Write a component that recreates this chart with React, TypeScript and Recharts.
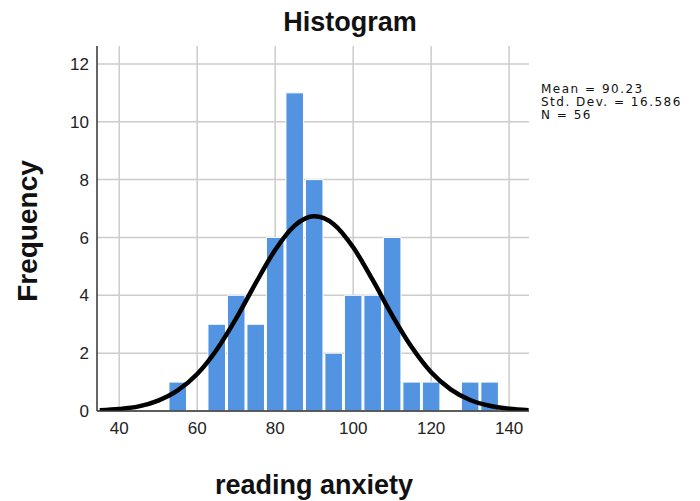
import React from 'react';
import { ComposedChart, Bar, Line, XAxis, YAxis, CartesianGrid } from 'recharts';

// bin centers (width 5) and counts
const binCenters = [35, 40, 45, 50, 55, 60, 65, 70, 75, 80, 85, 90, 95, 100, 105, 110, 115, 120, 125, 130, 135, 140, 145];
const frequencies = [0, 0, 0, 0, 1, 0, 3, 4, 3, 6, 11, 8, 2, 4, 4, 6, 1, 1, 0, 1, 1, 0, 0];
// normal curve at the same x positions
const curveValues = [0.03, 0.07, 0.16, 0.36, 0.71, 1.28, 2.12, 3.2, 4.42, 5.57, 6.41, 6.73, 6.46, 5.66, 4.53, 3.31, 2.21, 1.34, 0.75, 0.38, 0.18, 0.08, 0.03];

const xTicks = [40, 60, 80, 100, 120, 140];
const yTicks = [0, 2, 4, 6, 8, 10, 12];
const statsLines = ['Mean = 90.23', 'Std. Dev. = 16.586', 'N = 56'];

const data = binCenters.map((x, i) => ({
  x,
  freq: frequencies[i] > 0 ? frequencies[i] : null,
  curve: curveValues[i],
}));

const font = '"Liberation Sans", Arial, sans-serif';
const tickStyle = { fill: '#222', fontSize: 17, fontFamily: font };

const App: React.FC = () => {
  return (
    <div style={{ position: 'absolute', left: 0, top: 0, width: 700, height: 501, background: '#fff', fontFamily: font }}>
      <div style={{ position: 'absolute', left: 0, width: 700, top: 7, textAlign: 'center', fontSize: 27, lineHeight: '31px', fontWeight: 'bold', color: '#111' }}>
        Histogram
      </div>
      <div
        style={{
          position: 'absolute', left: 28, top: 231, transform: 'translate(-50%, -50%) rotate(-90deg)',
          fontSize: 28, fontWeight: 'bold', color: '#111', whiteSpace: 'nowrap',
        }}
      >
        Frequency
      </div>
      <div style={{ position: 'absolute', left: 164, width: 300, top: 470, textAlign: 'center', fontSize: 27, lineHeight: '31px', fontWeight: 'bold', color: '#111', whiteSpace: 'nowrap' }}>
        reading anxiety
      </div>
      <div
        style={{
          position: 'absolute', left: 541, top: 83, fontSize: 12, lineHeight: '13px', letterSpacing: 1.5,
          fontFamily: '"DejaVu Sans", sans-serif', color: '#111', whiteSpace: 'nowrap',
        }}
      >
        {statsLines.map((s) => (
          <div key={s}>{s}</div>
        ))}
      </div>
      <ComposedChart
        width={700}
        height={501}
        data={data}
        margin={{ top: 46, right: 171, bottom: 60, left: 57 }}
        barCategoryGap={0}
      >
        <CartesianGrid stroke="#cccccc" strokeWidth={1.5} syncWithTicks />
        <XAxis
          dataKey="x"
          type="number"
          domain={[34.3, 145.1]}
          ticks={xTicks}
          allowDataOverflow
          tickLine={false}
          tickMargin={5}
          axisLine={{ stroke: '#333', strokeWidth: 1.5 }}
          tick={tickStyle}
        />
        <YAxis
          type="number"
          width={40}
          domain={[0, 12.62]}
          ticks={yTicks}
          allowDataOverflow
          tickLine={false}
          axisLine={{ stroke: '#333', strokeWidth: 1.5 }}
          tick={tickStyle}
        />
        <Bar dataKey="freq" fill="#5294E2" stroke="#ffffff" strokeWidth={1} barSize={19.5} isAnimationActive={false} />
        <Line
          dataKey="curve"
          type="monotone"
          stroke="#000"
          strokeWidth={4.5}
          dot={false}
          activeDot={false}
          isAnimationActive={false}
        />
      </ComposedChart>
    </div>
  );
};

export default App;
